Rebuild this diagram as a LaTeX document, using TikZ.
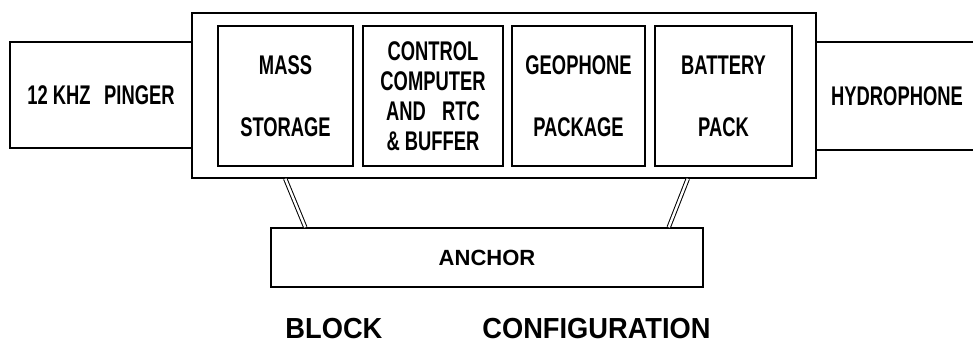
\documentclass[tikz,border=0pt]{standalone}
\usepackage{fontspec}
\setmainfont{Liberation Sans Bold}
\newfontfamily\narrowfont{Liberation Sans Bold}[FakeStretch=0.68]
\newfontfamily\titlefont{Liberation Sans Bold}[FakeStretch=0.94]

\begin{document}
\begin{tikzpicture}[x=1pt,y=-1pt,line width=1.5pt,
  unit/.style={draw,minimum width=#1,minimum height=140pt,inner sep=0pt,align=center,font=\narrowfont\fontsize{27}{30}\selectfont},
  outbox/.style={draw,inner sep=0pt,font=\narrowfont\fontsize{27}{30}\selectfont},
  leg/.style={double,double distance=2.4pt,line width=1pt}]
\useasboundingbox (0,0) rectangle (973,347);
\node[outbox,minimum width=182pt,minimum height=106pt] (pinger) at (101,95) {12 KHZ\hspace{.5em}PINGER};
\node[outbox,minimum width=162pt,minimum height=108pt] (hydro) at (897,96) {HYDROPHONE};
\node[draw,fill=white,minimum width=624pt,minimum height=165pt] (main) at (504,95.5) {};
\node[unit=135pt] (mass) at (285.5,96) {MASS\\[32pt]STORAGE};
\node[unit=140pt] (ctrl) at (433,96) {CONTROL\\COMPUTER\\AND\hspace{.6em}RTC\\\&\ BUFFER};
\node[unit=133pt] (geo) at (578.5,96) {GEOPHONE\\[32pt]PACKAGE};
\node[unit=137pt] (batt) at (723.5,96) {BATTERY\\[32pt]PACK};
\node[draw,minimum width=432pt,minimum height=59pt,font=\fontsize{22}{26}\selectfont] (anchor) at (487,257.5) {ANCHOR};
\draw[leg] ([xshift=94pt]main.south west)--([xshift=35pt]anchor.north west);
\draw[leg] ([xshift=-129pt]main.south east)--([xshift=-35pt]anchor.north east);
\node[font=\titlefont\fontsize{29}{33}\selectfont] (title) at (498,329) {BLOCK\hspace{100pt}CONFIGURATION};
\end{tikzpicture}
\end{document}
